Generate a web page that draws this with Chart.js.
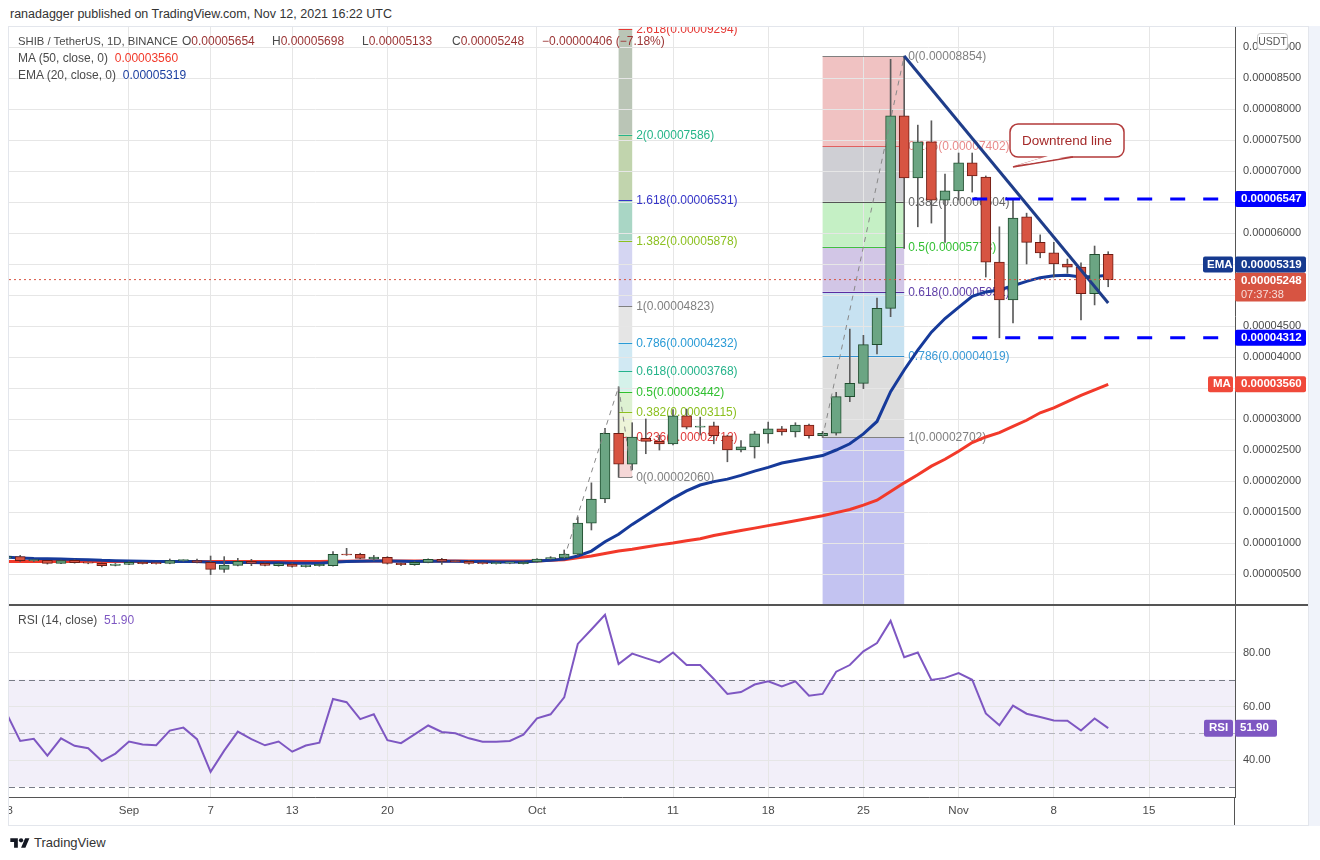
<!DOCTYPE html>
<html>
<head>
<meta charset="utf-8">
<title>SHIB / TetherUS, 1D</title>
<script src="https://cdn.jsdelivr.net/npm/chart.js@4.4.1/dist/chart.umd.min.js"></script>
<style>
  html, body { margin: 0; padding: 0; background: #fff; }
  body { width: 1320px; height: 860px; position: relative; overflow: hidden; font-family: 'Liberation Sans', Arial, sans-serif; }
  #published { position: absolute; left: 10px; top: 7px; font-size: 12.5px; color: #333; }
  #frame { position: absolute; left: 8px; top: 26px; width: 1301px; height: 800px; border: 1px solid #e3e6ec; box-sizing: border-box; }
  #strip { position: absolute; left: 1309px; top: 26px; width: 11px; height: 800px; background: #f0f3fa; }
  .pane { position: absolute; left: 9px; width: 1299px; }
  #mainPane { top: 27px; height: 578px; }
  #rsiPane { top: 605px; height: 219px; }
  .sep { position: absolute; background: #555; }
  .legend { position: absolute; left: 18px; font-size: 12px; color: #4a4a4a; white-space: nowrap; line-height: 14px; }
  .legend .v { color: #9b3434; }
  .legend .it { display: inline-block; width: 90px; }
  #logo { position: absolute; left: 10px; top: 835px; font-size: 13px; color: #333; display: flex; align-items: center; gap: 4px; }
</style>
</head>
<body>
<div id="published">ranadagger published on TradingView.com, Nov 12, 2021 16:22 UTC</div>
<div id="frame"></div>
<div id="strip"></div>
<div class="pane" id="mainPane"><canvas id="mainChart"></canvas></div>
<div class="pane" id="rsiPane"><canvas id="rsiChart"></canvas></div>
<div class="sep" style="left:9px;top:604px;width:1299px;height:2px"></div>
<div class="sep" style="left:1234px;top:797px;width:1px;height:28px"></div>

<div class="legend" style="top:34px"><span style="font-size:11.3px;display:inline-block;width:164px">SHIB / TetherUS, 1D, BINANCE</span><span class="it">O<span class="v">0.00005654</span></span><span class="it">H<span class="v">0.00005698</span></span><span class="it">L<span class="v">0.00005133</span></span><span class="it">C<span class="v">0.00005248</span></span><span class="v">−0.00000406 (−7.18%)</span></div>
<div class="legend" style="top:51px">MA (50, close, 0)&nbsp; <span style="color:#f2392a">0.00003560</span></div>
<div class="legend" style="top:68px">EMA (20, close, 0)&nbsp; <span style="color:#1b3fa0">0.00005319</span></div>
<div class="legend" style="top:613px">RSI (14, close)&nbsp; <span style="color:#7e57c2">51.90</span></div>

<div id="logo">
  <svg width="20" height="14" viewBox="0 0 36 26"><path d="M14 22H7V11H0V4h14v18zM28 22h-8l7.5-18h8L28 22z" fill="#131722"/><circle cx="20" cy="8" r="4" fill="#131722"/></svg>
  <span>TradingView</span>
</div>

<script>
// prices are in units of 0.00001 USDT
const PRICE_UNIT = 1e-5;

// daily candles, Aug 23 2021 (index 0) .. Nov 12 2021 (index 81)
const opens = [
  0.76, 0.78, 0.715, 0.72, 0.672, 0.72, 0.69, 0.672, 0.64,
  0.656, 0.688, 0.677, 0.672, 0.715, 0.715, 0.688, 0.575, 0.64, 0.704,
  0.672, 0.634, 0.66, 0.618, 0.634, 0.634, 0.822, 0.817, 0.742, 0.769,
  0.672, 0.65, 0.688, 0.737, 0.71, 0.704, 0.683, 0.667, 0.675, 0.667,
  0.694, 0.742, 0.76, 0.82, 1.32, 1.71, 2.77, 2.27, 2.69, 2.64,
  2.60, 3.05, 2.87, 2.89, 2.73, 2.50, 2.55, 2.76, 2.84, 2.79,
  2.90, 2.73, 2.77, 3.36, 3.575, 4.20, 4.785, 7.89, 6.89, 7.47, 6.53,
  6.68, 7.13, 6.90, 5.53, 4.92, 6.26, 5.85, 5.68, 5.50, 5.45, 5.02, 5.654
];
const highs = [
  0.80, 0.80, 0.73, 0.72, 0.725, 0.73, 0.70, 0.68, 0.67,
  0.70, 0.695, 0.685, 0.742, 0.73, 0.742, 0.79, 0.78, 0.753, 0.737,
  0.68, 0.67, 0.67, 0.65, 0.66, 0.86, 0.914, 0.835, 0.80, 0.78,
  0.68, 0.70, 0.745, 0.753, 0.72, 0.715, 0.69, 0.69, 0.69, 0.695,
  0.75, 0.78, 0.887, 1.42, 1.97, 2.85, 3.52, 2.94, 3.00, 2.74,
  3.15, 3.16, 3.03, 2.95, 2.74, 2.65, 2.80, 2.95, 2.88, 2.94,
  2.92, 2.80, 3.43, 4.45, 4.35, 4.95, 8.80, 8.854, 7.74, 7.81, 6.95,
  7.29, 7.29, 6.92, 6.10, 6.55, 6.32, 5.97, 5.85, 5.58, 5.52, 5.79, 5.698
];
const lows = [
  0.74, 0.70, 0.70, 0.66, 0.665, 0.675, 0.665, 0.615, 0.63,
  0.65, 0.66, 0.66, 0.665, 0.705, 0.68, 0.49, 0.527, 0.63, 0.634,
  0.63, 0.625, 0.61, 0.61, 0.625, 0.625, 0.80, 0.745, 0.72, 0.66,
  0.634, 0.64, 0.68, 0.655, 0.69, 0.66, 0.66, 0.66, 0.665, 0.66,
  0.685, 0.735, 0.757, 0.80, 1.21, 1.65, 2.06, 2.18, 2.44, 2.50,
  2.58, 2.84, 2.74, 2.60, 2.31, 2.47, 2.37, 2.61, 2.74, 2.71,
  2.69, 2.702, 2.74, 3.28, 3.49, 4.05, 4.65, 5.75, 6.10, 6.16, 5.85,
  6.53, 6.66, 5.29, 4.31, 4.55, 5.50, 5.60, 5.29, 5.35, 4.60, 4.84, 5.133
];
const closes = [
  0.78, 0.715, 0.725, 0.672, 0.715, 0.683, 0.675, 0.634, 0.66,
  0.688, 0.667, 0.667, 0.715, 0.72, 0.688, 0.575, 0.645, 0.704, 0.672,
  0.64, 0.667, 0.624, 0.645, 0.656, 0.817, 0.806, 0.753, 0.774, 0.672,
  0.65, 0.688, 0.737, 0.704, 0.699, 0.672, 0.667, 0.683, 0.68, 0.688,
  0.742, 0.764, 0.82, 1.32, 1.71, 2.77, 2.27, 2.71, 2.64, 2.60,
  3.05, 2.87, 2.88, 2.73, 2.50, 2.55, 2.76, 2.84, 2.79, 2.90,
  2.73, 2.77, 3.36, 3.575, 4.20, 4.785, 7.89, 6.89, 7.47, 6.53, 6.68,
  7.13, 6.92, 5.53, 4.92, 6.24, 5.85, 5.68, 5.50, 5.45, 5.02, 5.654, 5.248
];
const ma50 = [
  0.70, 0.70, 0.70, 0.70, 0.70, 0.70, 0.70, 0.70, 0.70,
  0.70, 0.70, 0.70, 0.70, 0.70, 0.70, 0.70, 0.70, 0.70, 0.70,
  0.70, 0.70, 0.70, 0.70, 0.70, 0.705, 0.705, 0.71, 0.71, 0.71,
  0.71, 0.71, 0.71, 0.71, 0.71, 0.71, 0.71, 0.71, 0.71, 0.71,
  0.71, 0.72, 0.73, 0.76, 0.79, 0.83, 0.87, 0.90, 0.935, 0.97,
  1.00, 1.035, 1.07, 1.12, 1.16, 1.20, 1.24, 1.28, 1.32, 1.36,
  1.40, 1.44, 1.49, 1.54, 1.61, 1.69, 1.83, 1.97, 2.10, 2.24, 2.35,
  2.48, 2.62, 2.71, 2.78, 2.88, 2.98, 3.10, 3.18, 3.28, 3.38, 3.47, 3.56
];
const ema20 = [
  0.77, 0.76, 0.75, 0.745, 0.74, 0.735, 0.73, 0.72, 0.715,
  0.71, 0.705, 0.70, 0.70, 0.70, 0.70, 0.69, 0.685, 0.685, 0.685,
  0.68, 0.68, 0.675, 0.675, 0.675, 0.69, 0.70, 0.705, 0.71, 0.71,
  0.705, 0.70, 0.705, 0.705, 0.705, 0.70, 0.70, 0.695, 0.695, 0.695,
  0.71, 0.72, 0.74, 0.79, 0.87, 1.02, 1.14, 1.30, 1.44, 1.58,
  1.72, 1.84, 1.935, 1.99, 2.03, 2.09, 2.16, 2.22, 2.29, 2.33,
  2.37, 2.41, 2.50, 2.60, 2.76, 2.96, 3.44, 3.79, 4.11, 4.40, 4.62,
  4.80, 4.98, 5.05, 5.08, 5.15, 5.22, 5.28, 5.31, 5.32, 5.29, 5.30, 5.319
];
const rsi14 = [
  57.4, 47.1, 47.9, 41.6, 48.1, 45.3, 44.4, 39.6, 42.4,
  46.9, 45.8, 45.5, 51.0, 52.1, 47.8, 35.6, 43.5, 50.6, 47.8,
  45.5, 46.9, 43.1, 45.4, 46.5, 62.8, 61.6, 55.3, 57.1, 47.4,
  46.3, 49.6, 52.9, 50.5, 50.0, 48.1, 46.8, 46.8, 47.1, 49.5,
  55.6, 57.1, 63.4, 83.4, 88.8, 94.3, 75.9, 79.75, 78.1, 76.5,
  80.2, 75.5, 75.5, 70.3, 64.7, 65.4, 68.2, 69.4, 67.5, 69.4,
  64.0, 64.7, 73.0, 75.5, 80.6, 83.7, 92.0, 78.4, 80.2, 69.9, 70.7,
  72.5, 70.0, 57.4, 53.0, 60.3, 57.3, 56.1, 54.8, 54.7, 51.0, 55.5, 51.9
];

// axis ticks
const dateTickIdx = [0, 9, 15, 21, 28, 39, 49, 56, 63, 70, 77, 84];
const dateTickText = ['23', 'Sep', '7', '13', '20', 'Oct', '11', '18', '25', 'Nov', '8', '15'];
const priceTicks = [0.5, 1, 1.5, 2, 2.5, 3, 3.5, 4, 4.5, 5, 5.5, 6, 6.5, 7, 7.5, 8, 8.5, 9];
const rsiTicks = [40, 60, 80];
const rsiBand = [30, 50, 70];

// trend-based fib extension (Oct 7 -> Oct 8)
const extRatios = [2.618, 2, 1.618, 1.382, 1, 0.786, 0.618, 0.5, 0.382, 0.236, 0];
const extPrices = [9.294, 7.586, 6.531, 5.878, 4.823, 4.232, 3.768, 3.442, 3.115, 2.712, 2.060];
const extSpan = [45, 46];
const extPath = [[41, 0.757], [45, 3.52], [46, 2.060]];

// fib retracement (Oct 22 -> Oct 28)
const retRatios = [0, 0.236, 0.382, 0.5, 0.618, 0.786, 1];
const retPrices = [8.854, 7.402, 6.504, 5.778, 5.052, 4.019, 2.702];
const retSpan = [60, 66];
const retPath = [[60, 2.702], [66, 8.854]];

// drawn lines
const downtrend = [[66, 8.854], [81, 4.87]];
const resistance = 6.547;
const support = 4.312;
const levelsFrom = 71;
const lastPrice = 5.248;
const lastMA = 3.56;
const lastRSI = 51.9;

// ---- look ----
const FONT = "'Liberation Sans', Arial, sans-serif";
const GRID = '#e6e6e6';
const X_MIN = 0.1765, X_MAX = 90.3235;
const Y_MAX = 9.3226;
const RSI_MIN = 26.17, RSI_MAX = 97.94;
const UP = '#6ba583', UP_EDGE = '#1f4d2e', DOWN = '#d75442', DOWN_EDGE = '#6e1c14', WICK = '#5b5b5b';
const extFills = ['#bac5b6', '#c1d4ad', '#a9d6c5', '#d4d5f2', '#e5e5e5', '#d1e9f3', '#d5f2ea', '#ddf1d2', '#edf4d8', '#f5d7d7'];
const extColors = ['#e53935', '#26b589', '#3535c8', '#8cc020', '#808080', '#2a9bd6', '#25b38a', '#2ec02e', '#8cc020', '#e03a3a', '#808080'];
const retFills = ['#f0c2c2', '#cfcfd4', '#c5f0c5', '#d2c6e6', '#c7e2f1', '#dddddd'];
const retBelow = '#c3c3f1';
const retColors = ['#808080', '#e88a8a', '#666666', '#33c033', '#5f3fa8', '#3a9ad6', '#808080'];
const retLines = ['#808080', '#e06060', '#555555', '#40c040', '#5a2ca0', '#3090d0', '#808080'];

Chart.defaults.font.family = FONT;
Chart.defaults.animation = false;

const fmt = v => (v * PRICE_UNIT).toFixed(8);
const xy = pairs => pairs.map(p => ({ x: p[0], y: p[1] }));
const days = closes.map((_, i) => i);
const up = days.map(i => closes[i] >= opens[i]);

function paneZones(chart) {
  const { ctx, chartArea: a, scales: { x, y } } = chart;
  ctx.save();
  ctx.beginPath();
  ctx.rect(a.left, a.top, a.width, a.height);
  ctx.clip();
  let x0 = x.getPixelForValue(extSpan[0]), x1 = x.getPixelForValue(extSpan[1]);
  for (let k = 0; k < extFills.length; k++) {
    const yt = y.getPixelForValue(extPrices[k]), yb = y.getPixelForValue(extPrices[k + 1]);
    ctx.fillStyle = extFills[k];
    ctx.fillRect(x0, yt, x1 - x0, yb - yt);
  }
  x0 = x.getPixelForValue(retSpan[0]);
  x1 = x.getPixelForValue(retSpan[1]);
  for (let k = 0; k < retFills.length; k++) {
    const yt = y.getPixelForValue(retPrices[k]), yb = y.getPixelForValue(retPrices[k + 1]);
    ctx.fillStyle = retFills[k];
    ctx.fillRect(x0, yt, x1 - x0, yb - yt);
  }
  const y1 = y.getPixelForValue(retPrices[retPrices.length - 1]);
  ctx.fillStyle = retBelow;
  ctx.fillRect(x0, y1, x1 - x0, a.bottom - y1);
  ctx.restore();
}

function levelLines(ctx, x, y, span, prices, ratios, lineColors, textColors) {
  const x0 = x.getPixelForValue(span[0]), x1 = x.getPixelForValue(span[1]);
  prices.forEach((p, k) => {
    const yy = Math.round(y.getPixelForValue(p)) + 0.5;
    ctx.strokeStyle = lineColors[k];
    ctx.lineWidth = 1;
    ctx.beginPath();
    ctx.moveTo(x0, yy);
    ctx.lineTo(x1, yy);
    ctx.stroke();
    ctx.fillStyle = textColors[k];
    ctx.fillText(ratios[k] + '(' + fmt(p) + ')', x1 + 4, yy);
  });
}

const fibPlugin = {
  id: 'fibDrawings',
  beforeDraw(chart) { paneZones(chart); },
  beforeDatasetsDraw(chart) {
    const { ctx, chartArea: a, scales: { x, y } } = chart;
    ctx.save();
    ctx.beginPath();
    ctx.rect(a.left, a.top, a.width, a.height);
    ctx.clip();
    ctx.font = '12px ' + FONT;
    ctx.textBaseline = 'middle';
    ctx.textAlign = 'left';
    levelLines(ctx, x, y, extSpan, extPrices, extRatios, extColors, extColors);
    levelLines(ctx, x, y, retSpan, retPrices, retRatios, retLines, retColors);
    ctx.restore();
  }
};

const calloutPlugin = {
  id: 'callout',
  afterDatasetsDraw(chart) {
    const { ctx, scales: { x, y } } = chart;
    const bx = x.getPixelForValue(73.78), by = y.getPixelForValue(7.758);
    const tx = x.getPixelForValue(74.0), ty = y.getPixelForValue(7.065);
    const w = 114, h = 33;
    ctx.save();
    ctx.lineWidth = 1.5;
    ctx.strokeStyle = '#b23a3a';
    ctx.fillStyle = '#fff';
    ctx.beginPath();
    ctx.roundRect(bx, by, w, h, 8);
    ctx.fill();
    ctx.stroke();
    ctx.beginPath();
    ctx.moveTo(bx + 37, by + h);
    ctx.lineTo(tx, ty);
    ctx.lineTo(bx + 63, by + h);
    ctx.stroke();
    ctx.beginPath();
    ctx.moveTo(bx + 38, by + h - 1);
    ctx.lineTo(tx + 3, ty - 1.5);
    ctx.lineTo(bx + 61, by + h - 1);
    ctx.fill();
    ctx.fillStyle = '#a52a2a';
    ctx.font = '13.5px ' + FONT;
    ctx.textAlign = 'center';
    ctx.textBaseline = 'middle';
    ctx.fillText('Downtrend line', bx + w / 2, by + h / 2 + 0.5);
    ctx.restore();
  }
};

function tag(ctx, x, top, w, h, bg, lines) {
  ctx.fillStyle = bg;
  ctx.beginPath();
  ctx.roundRect(x, top, w, h, 2);
  ctx.fill();
  ctx.textBaseline = 'middle';
  ctx.textAlign = 'left';
  lines.forEach(l => {
    ctx.fillStyle = l.color || '#fff';
    ctx.font = l.font || ('bold 11.5px ' + FONT);
    ctx.fillText(l.text, l.x, l.y);
  });
}

const mainTags = {
  id: 'mainTags',
  afterDraw(chart) {
    const { ctx, chartArea: a, scales: { y } } = chart;
    const r = a.right;
    ctx.save();
    [resistance, support].forEach(p => {
      const yc = y.getPixelForValue(p);
      tag(ctx, r, yc - 8, 71, 16, '#0000ff', [{ text: fmt(p), x: r + 6, y: yc }]);
    });
    let yc = y.getPixelForValue(lastMA);
    tag(ctx, r, yc - 8, 71, 16, '#f0493a', [{ text: fmt(lastMA), x: r + 6, y: yc }]);
    tag(ctx, r - 27, yc - 8, 25, 16, '#f0493a', [{ text: 'MA', x: r - 22, y: yc }]);
    const top = y.getPixelForValue(lastPrice) - 7;
    tag(ctx, r, top, 71, 29, DOWN, [
      { text: fmt(lastPrice), x: r + 6, y: top + 8 },
      { text: '07:37:38', x: r + 6, y: top + 22, color: 'rgba(255,255,255,0.8)', font: '11px ' + FONT }
    ]);
    yc = top - 8;
    tag(ctx, r, top - 16, 71, 16, '#163a8f', [{ text: fmt(ema20[ema20.length - 1]), x: r + 6, y: yc }]);
    tag(ctx, r - 32, top - 16, 30, 16, '#163a8f', [{ text: 'EMA', x: r - 28, y: yc }]);
    ctx.fillStyle = '#fff';
    ctx.strokeStyle = '#c8c8c8';
    ctx.lineWidth = 1;
    ctx.beginPath();
    ctx.roundRect(r + 22.5, 6.5, 30, 16, 3);
    ctx.fill();
    ctx.stroke();
    ctx.fillStyle = '#555';
    ctx.font = '10.5px ' + FONT;
    ctx.textAlign = 'center';
    ctx.fillText('USDT', r + 37.5, 15);
    ctx.restore();
  }
};

const lineSet = (data, color, width, order, dash) => ({
  type: 'line', data, borderColor: color, borderWidth: width, borderDash: dash || [],
  pointRadius: 0, tension: 0, order, fill: false
});

new Chart(document.getElementById('mainChart'), {
  type: 'bar',
  data: {
    datasets: [
      lineSet(xy([[X_MIN, lastPrice], [X_MAX, lastPrice]]), DOWN, 1, 0, [2, 3]),
      lineSet(xy([[levelsFrom, resistance], [X_MAX, resistance]]), '#0000ff', 3, 1, [15, 18]),
      lineSet(xy([[levelsFrom, support], [X_MAX, support]]), '#0000ff', 3, 1, [15, 18]),
      lineSet(xy(downtrend), '#1f3d8a', 3, 2),
      lineSet(xy(extPath), '#888', 1, 3, [5, 5]),
      lineSet(xy(retPath), '#888', 1, 3, [5, 5]),
      {
        type: 'bar', order: 4, grouped: false, barThickness: 10, minBarLength: 1,
        data: days.map(i => ({ x: i, y: [opens[i], closes[i]] })),
        backgroundColor: days.map(i => up[i] ? UP : DOWN),
        borderColor: days.map(i => up[i] ? UP_EDGE : DOWN_EDGE),
        borderWidth: 1, borderSkipped: false
      },
      {
        type: 'bar', order: 5, grouped: false, barThickness: 1,
        data: days.map(i => ({ x: i, y: [lows[i], highs[i]] })),
        backgroundColor: WICK, borderWidth: 0
      },
      lineSet(days.map(i => ({ x: i, y: ema20[i] })), '#163a9a', 3, 6),
      lineSet(days.map(i => ({ x: i, y: ma50[i] })), '#f2392a', 3, 7)
    ]
  },
  options: {
    responsive: true,
    maintainAspectRatio: false,
    events: [],
    layout: { padding: 0 },
    plugins: { legend: { display: false }, tooltip: { enabled: false } },
    scales: {
      x: {
        type: 'linear', min: X_MIN, max: X_MAX, offset: false,
        grid: { color: GRID, drawTicks: false, offset: false },
        border: { display: false },
        ticks: { display: false },
        afterBuildTicks: s => { s.ticks = dateTickIdx.map(v => ({ value: v })); },
        afterFit: s => { s.height = 0; s.paddingLeft = 0; s.paddingRight = 0; }
      },
      y: {
        position: 'right', min: 0, max: Y_MAX, beginAtZero: false,
        grid: { color: GRID, drawTicks: false },
        border: { display: true, color: '#555', width: 1 },
        ticks: { callback: v => fmt(v), color: '#4a4a4a', font: { size: 11 }, padding: 8, crossAlign: 'near' },
        afterBuildTicks: s => { s.ticks = priceTicks.map(v => ({ value: v })); },
        afterFit: s => { s.width = 73; s.paddingTop = 0; s.paddingBottom = 0; }
      }
    }
  },
  plugins: [fibPlugin, calloutPlugin, mainTags]
});

const rsiPlugin = {
  id: 'rsiBand',
  beforeDraw(chart) {
    const { ctx, chartArea: a, scales: { y } } = chart;
    const yt = y.getPixelForValue(rsiBand[2]), yb = y.getPixelForValue(rsiBand[0]);
    ctx.save();
    ctx.fillStyle = '#f2eff9';
    ctx.fillRect(a.left, yt, a.width, yb - yt);
    ctx.restore();
  },
  beforeDatasetsDraw(chart) {
    const { ctx, chartArea: a, scales: { y } } = chart;
    ctx.save();
    ctx.lineWidth = 1;
    ctx.setLineDash([6, 4]);
    rsiBand.forEach((v, k) => {
      const yy = Math.round(y.getPixelForValue(v)) + 0.5;
      ctx.strokeStyle = k === 1 ? '#b4b4bc' : '#787b86';
      ctx.beginPath();
      ctx.moveTo(a.left, yy);
      ctx.lineTo(a.right, yy);
      ctx.stroke();
    });
    ctx.restore();
  },
  afterDraw(chart) {
    const { ctx, chartArea: a, scales: { y } } = chart;
    const r = a.right, yc = y.getPixelForValue(lastRSI);
    ctx.save();
    tag(ctx, r, yc - 8.5, 42, 17, '#7e57c2', [{ text: lastRSI.toFixed(2), x: r + 5, y: yc }]);
    tag(ctx, r - 31, yc - 8.5, 29, 17, '#7e57c2', [{ text: 'RSI', x: r - 26, y: yc }]);
    ctx.restore();
  }
};

new Chart(document.getElementById('rsiChart'), {
  type: 'line',
  data: {
    datasets: [{
      data: days.map(i => ({ x: i, y: rsi14[i] })),
      borderColor: '#7e57c2', borderWidth: 2, pointRadius: 0, tension: 0, fill: false
    }]
  },
  options: {
    responsive: true,
    maintainAspectRatio: false,
    events: [],
    layout: { padding: 0 },
    plugins: { legend: { display: false }, tooltip: { enabled: false } },
    scales: {
      x: {
        type: 'linear', min: X_MIN, max: X_MAX, offset: false,
        grid: { color: GRID, drawTicks: false },
        border: { display: true, color: '#555', width: 1 },
        ticks: {
          autoSkip: false, maxRotation: 0, padding: 7, color: '#4a4a4a', font: { size: 11.5 },
          callback: (v, i) => dateTickText[i]
        },
        afterBuildTicks: s => { s.ticks = dateTickIdx.map(v => ({ value: v })); },
        afterFit: s => { s.height = 27; s.paddingLeft = 0; s.paddingRight = 0; }
      },
      y: {
        position: 'right', min: RSI_MIN, max: RSI_MAX,
        grid: { color: GRID, drawTicks: false },
        border: { display: true, color: '#555', width: 1 },
        ticks: { callback: v => v.toFixed(2), color: '#4a4a4a', font: { size: 11 }, padding: 8, crossAlign: 'near' },
        afterBuildTicks: s => { s.ticks = rsiTicks.map(v => ({ value: v })); },
        afterFit: s => { s.width = 73; s.paddingTop = 0; s.paddingBottom = 0; }
      }
    }
  },
  plugins: [rsiPlugin]
});
</script>
</body>
</html>
